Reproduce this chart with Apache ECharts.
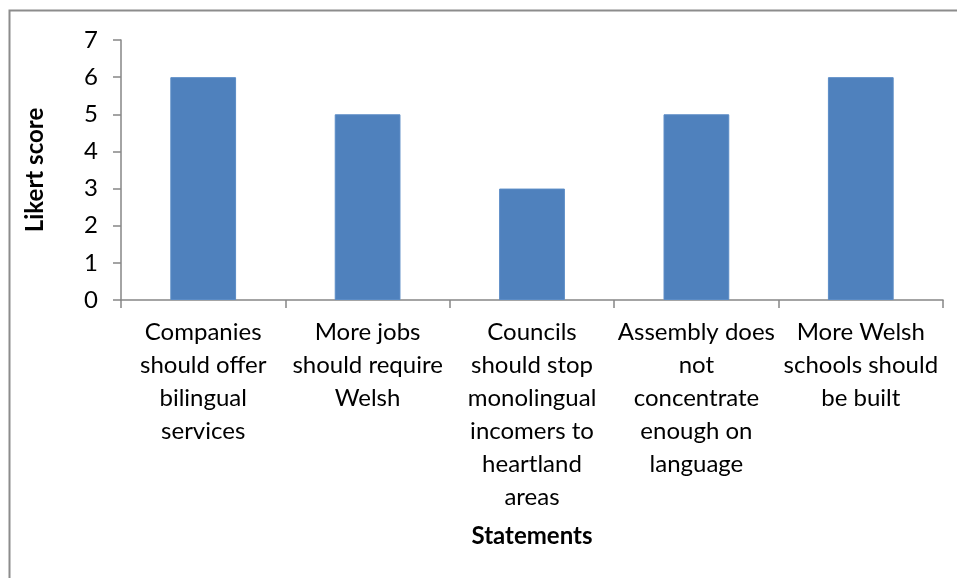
<!DOCTYPE html>
<html>
<head>
<meta charset="utf-8">
<script src="https://cdn.jsdelivr.net/npm/echarts@6/dist/echarts.min.js"></script>
<style>
  html, body { margin: 0; padding: 0; background: #fff; }
  #chart { width: 957px; height: 578px; }
</style>
</head>
<body>
<div id="chart"></div>
<script>
// Statements rated on a Likert scale
const statements = [
  'Companies\nshould offer\nbilingual\nservices',
  'More jobs\nshould require\nWelsh',
  'Councils\nshould stop\nmonolingual\nincomers to\nheartland\nareas',
  'Assembly does\nnot\nconcentrate\nenough on\nlanguage',
  'More Welsh\nschools should\nbe built'
];
const likertScores = [6, 5, 3, 5, 6];
const yTicks = [0, 1, 2, 3, 4, 5, 6, 7];

const FONT = 'Lato';
const axisGrey = '#868686';

const chart = echarts.init(document.getElementById('chart'));
chart.setOption({
  animation: false,
  backgroundColor: '#ffffff',
  graphic: [{
    type: 'rect',
    shape: { x: 9.5, y: 10.5, width: 1000, height: 1000 },
    style: { fill: 'none', stroke: '#8c8c8c', lineWidth: 2 },
    silent: true
  }],
  grid: { left: 121, right: 14, top: 40, bottom: 278 },
  xAxis: {
    type: 'category',
    data: statements,
    name: 'Statements',
    nameLocation: 'middle',
    nameGap: 224,
    nameTextStyle: { fontFamily: FONT, fontSize: 24, fontWeight: 'bold', color: '#000' },
    axisLine: { lineStyle: { color: axisGrey, width: 1.5 } },
    axisTick: { show: true, length: 8, inside: false, alignWithLabel: false, lineStyle: { color: axisGrey, width: 1.5 } },
    axisLabel: {
      interval: 0, margin: 16, fontFamily: FONT, fontSize: 24, color: '#000', lineHeight: 33
    }
  },
  yAxis: {
    type: 'value',
    min: yTicks[0],
    max: yTicks[yTicks.length - 1],
    interval: 1,
    name: 'Likert score',
    nameLocation: 'middle',
    nameGap: 74,
    nameTextStyle: { fontFamily: FONT, fontSize: 24, fontWeight: 'bold', color: '#000' },
    axisLine: { show: true, lineStyle: { color: axisGrey, width: 1.5 } },
    axisTick: { show: true, length: 8, lineStyle: { color: axisGrey, width: 1.5 } },
    axisLabel: { margin: 23, fontFamily: FONT, fontSize: 24, color: '#000' },
    splitLine: { show: false }
  },
  series: [{
    type: 'bar',
    data: likertScores,
    barCategoryGap: '60%',
    itemStyle: { color: '#4F81BD', borderColor: '#5b8cc6', borderWidth: 1 }
  }]
});
</script>
</body>
</html>
